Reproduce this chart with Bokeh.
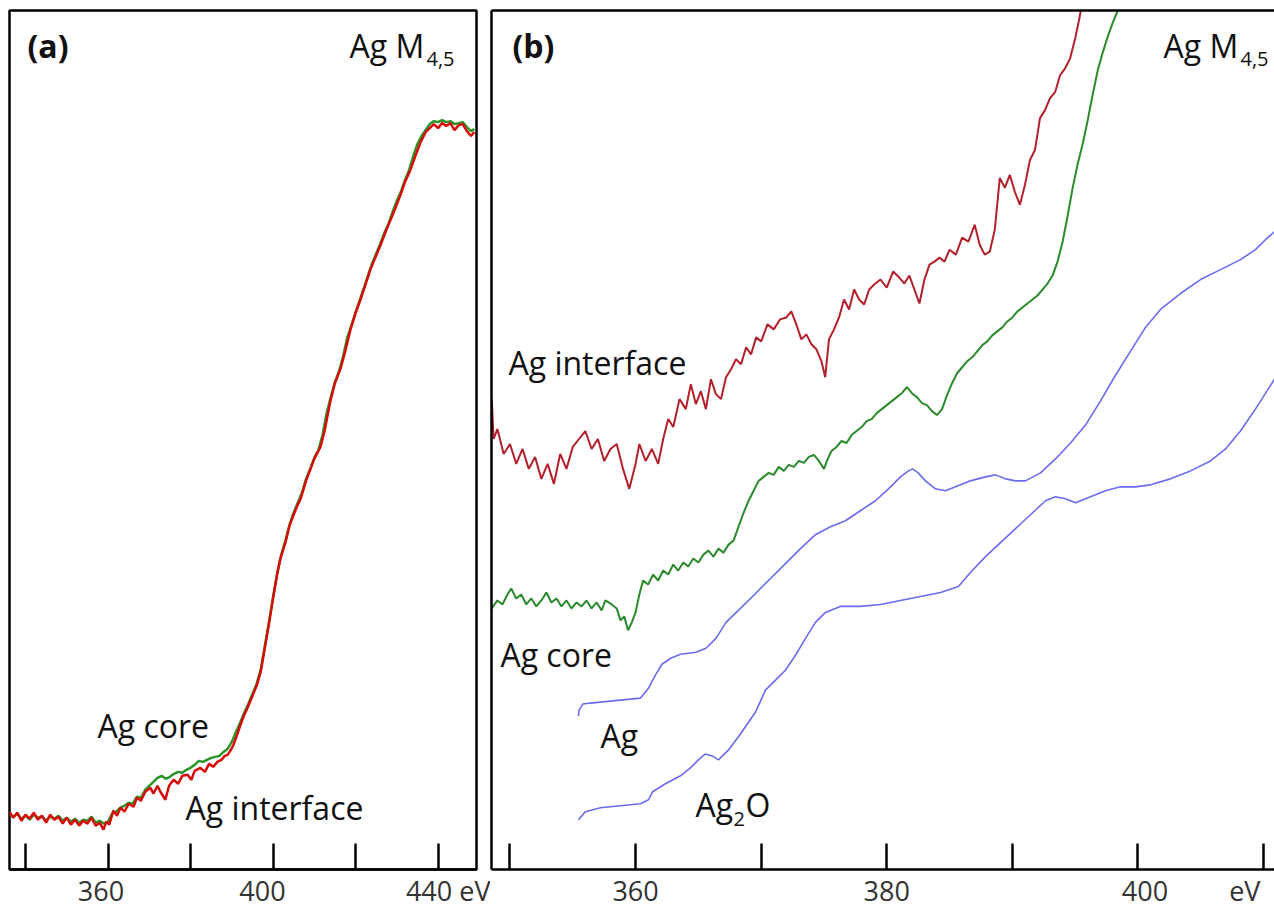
from bokeh.plotting import figure
from bokeh.layouts import row
from bokeh.models import Range1d, FixedTicker, LinearAxis, Label
from bokeh.embed import file_html
from bokeh.resources import INLINE

# ---------------- data: panel (a) ----------------
a_interface_ev = [336.1, 337, 338, 339, 340, 341, 342, 343, 344, 345, 346, 347, 348, 349, 350, 351, 352, 353,
                  354, 355, 356, 357, 358, 358.9, 359.6, 360.3, 361.3, 362.2, 363, 364, 365, 366.2, 367, 368,
                  369, 370.3, 371, 372, 372.7, 373.9, 374.8, 375.9, 377, 378, 379.3, 380.2, 381, 382.4, 383.5,
                  384.5, 385.5, 386.5, 387.5, 388.3, 389.0, 389.8, 390.4, 391.2, 392.1, 393.0, 393.6, 394.5,
                  395.4, 396.0, 397.0, 398.0, 399.0, 400.0, 401.0, 401.8, 403, 404, 405, 406, 406.7, 408,
                  409.1, 410, 411.5, 412.5, 413.9, 415, 416.4, 417.5, 418.8, 420, 421.2, 422.5, 423.6, 425,
                  426.1, 427.3, 428.5, 429.7, 430.9, 432, 433.3, 434.5, 435.8, 437, 438, 439, 440, 441, 442,
                  443, 444, 445, 446, 447, 448, 448.8]
a_interface_int = [58, 52, 57, 49, 55, 51, 57, 50, 54, 47, 55, 50, 53, 46, 52, 45, 50, 44,
                   49, 46, 52, 44, 47, 40, 48, 45, 59, 54, 62, 58, 66, 63, 72, 69,
                   78, 82, 76, 84, 78, 70, 84, 90, 86, 94, 95, 90, 99, 102, 98,
                   106, 103, 108, 110, 114, 115, 120, 125, 134, 145, 155, 160, 169,
                   178, 184, 198, 222, 246, 272, 296, 312, 328, 345, 356, 366, 372, 390,
                   402, 412, 424, 440, 470, 488, 503, 520, 542, 558, 572, 588, 602, 616,
                   627, 640, 652, 664, 677, 690, 702, 716, 730, 740, 744, 748, 744, 749, 746,
                   749, 742, 747, 748, 741, 736, 740]

a_core_ev = [336.1, 337, 338, 339, 340, 341, 342, 343, 344, 345, 346, 347, 348, 349, 350, 351, 352, 353,
             354, 355, 356, 357, 358, 359, 360, 361, 362, 363, 364, 365, 366, 367, 368, 369, 370, 371,
             372, 373, 374, 375, 376, 377, 378, 379, 380, 381, 382, 383, 384, 385, 386, 387, 388, 389,
             390, 391, 392, 393, 394, 395, 396, 397, 398, 399, 400, 401, 402, 403, 404, 405, 406, 407,
             408, 409, 410, 411, 412, 413, 414, 415, 416, 417, 418, 419, 420, 421, 422, 423, 424, 425,
             426, 427, 428, 429, 430, 431, 432, 433, 434, 435, 436, 437, 438, 439, 440, 441, 442, 443,
             444, 445, 446, 447, 448, 448.8]
a_core_int = [55, 53, 56, 51, 54, 50, 55, 52, 53, 49, 53, 51, 54, 49, 52, 48, 51, 47,
              50, 49, 53, 47, 49, 46, 48, 56, 58, 62, 64, 67, 66, 73, 72, 80, 84, 88,
              92, 94, 91, 93, 96, 98, 97, 100, 102, 105, 109, 108, 110, 112, 113, 114, 118, 121,
              128, 138, 147, 157, 166, 176, 186, 200, 224, 248, 273, 297, 316, 330, 346, 358, 368, 378,
              392, 402, 413, 421, 436, 458, 474, 489, 500, 515, 534, 546, 559, 571, 583, 596, 608, 618,
              628, 639, 648, 660, 671, 680, 692, 702, 716, 728, 736, 742, 748, 751, 750, 752, 750, 751,
              748, 749, 750, 745, 741, 743]

# ---------------- data: panel (b) ----------------
b_interface_ev = [348.55, 348.7, 349.0, 349.5, 350.0, 350.5, 351.0, 351.5, 352.0, 352.5, 353.0, 353.5,
                  354.0, 354.5, 355.0, 355.5, 356.0, 356.5, 357.0, 357.5, 358.0, 358.5, 359.0, 359.5,
                  360.0, 360.3, 360.8, 361.3, 361.8, 362.2, 362.6, 363.0, 363.5, 364.0, 364.4, 364.8,
                  365.2, 365.6, 366.0, 366.4, 366.8, 367.2, 367.6, 368.0, 368.4, 368.8, 369.2, 369.6,
                  370.0, 370.5, 371.0, 371.5, 372.0, 372.4, 372.8, 373.2, 373.6, 374.0, 374.4, 374.8,
                  375.1, 375.4, 375.8, 376.2, 376.6, 377.0, 377.4, 377.8, 378.2, 378.6, 379.0, 379.5,
                  380.0, 380.5, 381.0, 381.4, 381.8, 382.2, 382.6, 383.0, 383.4, 383.8, 384.2, 384.6,
                  385.0, 385.5, 386.0, 386.5, 387.0, 387.4, 387.8, 388.2, 388.6, 389.0, 389.4, 389.8,
                  390.2, 390.6, 391.0, 391.4, 391.8, 392.2, 392.6, 393.0, 393.4, 393.8, 394.2, 394.6,
                  395.0, 395.3, 395.6]
b_interface_int = [472, 432, 442, 417, 427, 407, 422, 402, 414, 392, 407, 387,
                   417, 402, 424, 432, 440, 422, 432, 410, 422, 427, 402, 382,
                   407, 427, 410, 422, 407, 432, 452, 444, 472, 462, 487, 467,
                   480, 462, 492, 477, 472, 494, 502, 512, 507, 524, 517, 534,
                   530, 547, 542, 552, 554, 560, 547, 532, 537, 527, 522, 510,
                   494, 532, 542, 554, 572, 562, 582, 572, 567, 582, 587, 592,
                   584, 600, 594, 588, 596, 582, 568, 592, 607, 610, 614, 610,
                   622, 617, 634, 630, 647, 627, 617, 620, 642, 694, 684, 697,
                   680, 667, 687, 712, 722, 754, 762, 774, 780, 797, 804, 814,
                   834, 852, 872]

b_core_ev = [348.55, 349.0, 349.4, 349.8, 350.1, 350.5, 350.9, 351.3, 351.7, 352.1, 352.5, 352.9,
             353.3, 353.7, 354.1, 354.5, 354.9, 355.3, 355.7, 356.1, 356.5, 356.9, 357.3, 357.6,
             358.1, 358.5, 358.8, 359.1, 359.4, 359.7, 360.0, 360.3, 360.6, 361.0, 361.4, 361.8,
             362.2, 362.6, 363.0, 363.4, 363.8, 364.2, 364.6, 365.0, 365.4, 365.8, 366.2, 366.6,
             367.0, 367.4, 367.8, 368.2, 368.6, 369.0, 369.4, 369.8, 370.2, 370.6, 371.0, 371.4,
             371.8, 372.2, 372.6, 373.0, 373.4, 373.8, 374.2, 374.6, 375.0, 375.3, 375.6, 376.0,
             376.4, 376.8, 377.2, 377.6, 378.0, 378.4, 378.8, 379.2, 379.6, 380.0, 380.4, 380.8,
             381.2, 381.6, 382.0, 382.4, 382.8, 383.2, 383.6, 384.0, 384.4, 384.8, 385.2, 385.6,
             386.0, 386.4, 386.8, 387.2, 387.6, 388.0, 388.4, 388.8, 389.2, 389.6, 390.0, 390.4,
             390.8, 391.2, 391.6, 392.0, 392.4, 392.8, 393.2, 393.6, 394.0, 394.4, 394.8, 395.2,
             395.6, 396.0, 396.4, 396.8, 397.2, 397.6, 398.0, 398.4, 398.8]
b_core_int = [262, 270, 266, 276, 282, 272, 276, 266, 272, 264, 270, 278,
              268, 272, 264, 270, 262, 268, 264, 270, 262, 268, 260, 270,
              266, 262, 250, 254, 240, 248, 258, 276, 290, 286, 296, 290,
              300, 296, 306, 300, 308, 304, 312, 308, 316, 320, 314, 322,
              318, 326, 330, 344, 358, 370, 380, 390, 394, 398, 396, 404,
              400, 406, 404, 410, 408, 414, 416, 410, 402, 412, 420, 424,
              430, 428, 436, 440, 444, 450, 452, 458, 462, 466, 470, 474,
              478, 484, 478, 474, 468, 466, 460, 456, 462, 476, 488, 498,
              504, 510, 514, 520, 526, 530, 536, 540, 544, 550, 554, 560,
              564, 568, 572, 576, 582, 588, 596, 610, 630, 656, 684, 708,
              728, 752, 778, 802, 820, 836, 850, 862, 876]

b_ag_ev = [355.45, 355.5, 355.8, 356.41, 357.21, 358.8, 360.39, 361.03, 361.58, 362.1, 362.8, 363.58,
           364.8, 365.6, 366.4, 367.2, 368.35, 369.55, 370.74, 371.93, 373.13, 374.32, 375.52, 376.71,
           377.9, 379.1, 380.3, 381.09, 381.73, 382.05, 382.5, 383.08, 383.88, 384.67, 385.47, 386.66,
           387.86, 388.65, 389.45, 390.25, 391.04, 392.24, 393.43, 394.63, 395.82, 397.01, 398.21,
           399.4, 400.6, 401.79, 403.38, 404.98, 406.57, 408.16, 409.35, 410.15, 410.87]
b_ag_int = [154, 160, 166, 167, 168, 170, 172, 182, 195, 206, 212, 216,
            218, 222, 232, 248, 262, 277, 292, 307, 322, 336, 344, 350,
            360, 370, 384, 394, 400, 402, 398, 390, 382, 380, 384, 390,
            394, 396, 392, 390, 390, 398, 412, 428, 446, 470, 496,
            520, 544, 562, 578, 592, 602, 612, 622, 632, 640]

b_ag2o_ev = [355.45, 356.0, 357.21, 358.8, 360.39, 361.03, 361.35, 362.38, 363.58, 364.37, 365.0, 365.56,
             366.1, 366.6, 367.4, 368.35, 369.55, 370.34, 371.14, 371.93, 372.73, 373.53, 374.32, 375.12,
             376.3, 377.9, 379.5, 381.09, 382.68, 384.28, 385.7, 386.66, 387.86, 389.05, 390.25, 391.44,
             392.64, 393.43, 394.23, 395.03, 396.22, 397.41, 398.61, 399.8, 401.0, 402.58, 404.18, 405.77,
             406.97, 408.16, 409.35, 410.87]
b_ag2o_int = [50, 58, 62, 64, 66, 70, 78, 86, 94, 102, 110, 116,
              114, 110, 120, 136, 158, 180, 190, 200, 215, 232, 248, 258,
              264, 264, 266, 270, 274, 278, 284, 298, 314, 328, 342, 356,
              370, 374, 372, 368, 374, 380, 384, 384, 386, 392, 400, 410,
              422, 440, 462, 492]

NB = "\u00a0"
a_ticks = [340, 360, 380, 400, 420, 440]
a_tick_labels = {340: "", 360: "360" + NB * 2, 380: "", 400: "400" + NB * 3, 420: "",
                 440: NB * 3 + "440" + NB + "eV"}
b_ticks = [350, 360, 370, 380, 390, 400, 410]
b_tick_labels = {350: "", 360: "360", 370: "", 380: "380", 390: "", 400: NB * 2 + "400",
                 410: "eV" + NB * 2}

FONT = "Open Sans"
LABEL_SIZE = "32px"
TICK_SIZE = "27px"
SUB_SIZE = "20px"


def make_fig(width, xr, left, right, ticks, labels):
    p = figure(width=width, height=911, x_range=Range1d(*xr), y_range=Range1d(0, 862),
               output_backend="svg", toolbar_location=None, y_axis_location=None,
               min_border_left=left, min_border_right=right, min_border_top=10, min_border_bottom=39)
    p.grid.visible = False
    p.background_fill_color = "white"
    p.border_fill_color = "white"
    ax = p.xaxis[0]
    ax.ticker = FixedTicker(ticks=ticks)
    ax.major_label_overrides = labels
    ax.major_tick_in = 26
    ax.major_tick_out = 0
    ax.minor_tick_in = 0
    ax.minor_tick_out = 0
    ax.major_tick_line_width = 2.5
    ax.major_tick_line_color = "black"
    ax.axis_line_width = 2.5
    ax.axis_line_color = "black"
    ax.major_label_text_font = FONT
    ax.major_label_text_font_size = TICK_SIZE
    ax.major_label_text_color = "#333333"
    ax.major_label_standoff = 2
    return p


def add_text(p, x, y, t, size=LABEL_SIZE, bold=False, color="#111111"):
    p.add_layout(Label(x=x, y=y, text=t, text_font=FONT, text_font_size=size,
                       text_font_style="bold" if bold else "normal", text_color=color,
                       text_baseline="alphabetic", text_align="left"))


# ---------------- panel (a) ----------------
pa = make_fig(490, (336.12, 449.33), 9, 14, a_ticks, a_tick_labels)
pa.outline_line_color = "black"
pa.outline_line_width = 2.5
pa.line(a_core_ev, a_core_int, line_color="#2a962a", line_width=2.5)
pa.line(a_interface_ev, a_interface_int, line_color="#d80a0a", line_width=2.5)
add_text(pa, 340.48, 827, "(a)", bold=True)
add_text(pa, 418.55, 827, "Ag M")
add_text(pa, 437.2, 813, "4,5", size=SUB_SIZE)
add_text(pa, 357.45, 145, "Ag core")
add_text(pa, 378.79, 62, "Ag interface")

# ---------------- panel (b) ----------------
pb = make_fig(784, (348.53, 410.87), 1, 0, b_ticks, b_tick_labels)
pb.outline_line_color = None
for loc in ("left", "above"):
    edge = LinearAxis(ticker=FixedTicker(ticks=[]), major_label_text_font_size="0px",
                      major_tick_out=0, major_tick_in=0, minor_tick_out=0, minor_tick_in=0,
                      major_label_standoff=0, axis_line_width=2.5, axis_line_color="black")
    pb.add_layout(edge, loc)
pb.line(b_ag_ev, b_ag_int, line_color="#6b6bef", line_width=1.6)
pb.line(b_ag2o_ev, b_ag2o_int, line_color="#6b6bef", line_width=1.6)
pb.line(b_core_ev, b_core_int, line_color="#2b8a2b", line_width=2)
pb.line(b_interface_ev, b_interface_int, line_color="#b3202c", line_width=2)
add_text(pb, 350.2, 827, "(b)", bold=True)
add_text(pb, 402.03, 827, "Ag M")
add_text(pb, 408.16, 813, "4,5", size=SUB_SIZE)
add_text(pb, 349.88, 509, "Ag interface")
add_text(pb, 349.24, 216, "Ag core")
add_text(pb, 357.2, 134, "Ag")
add_text(pb, 364.77, 65, "Ag")
add_text(pb, 367.8, 51, "2", size=SUB_SIZE)
add_text(pb, 368.75, 65, "O")

layout = row(pa, pb)
open("out.html", "w").write(file_html(layout, INLINE))
